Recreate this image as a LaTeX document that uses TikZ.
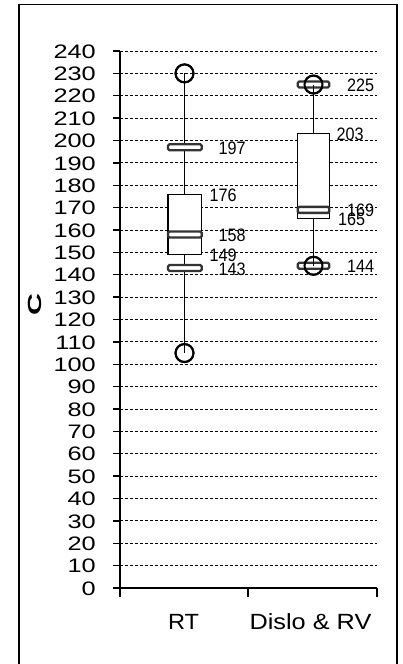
\documentclass[tikz,border=0pt]{standalone}
\usepackage{fontspec}
\setmainfont{Liberation Sans}
\def\Y#1{588-2.2375*#1}
\begin{document}
\begin{tikzpicture}[x=1pt,y=-1pt,
  frame/.style={line width=1.3pt,draw=black},
  grid/.style={line width=0.9pt,dash pattern=on 3pt off 2pt},
  axisline/.style={line width=1.4pt},
  whisk/.style={line width=1.3pt},
  boxst/.style={line width=1.3pt,draw=black,fill=white},
  barst/.style={line width=2.3pt,draw=black!80,fill=white,rounded corners=1.5pt},
  outl/.style={circle,draw=black,line width=2pt,minimum size=18pt,inner sep=0pt},
  ticklab/.style={anchor=base east,inner sep=0pt,font=\fontsize{19.5}{20}\selectfont},
  vallab/.style={anchor=base west,inner sep=0pt,font=\fontsize{18}{18}\selectfont},
  catlab/.style={anchor=base,inner sep=0pt,font=\fontsize{22}{22}\selectfont}]
\useasboundingbox (0,0) rectangle (403,664);
\fill[white] (0,0) rectangle (403,664);
% frame
\draw[frame] (19,4.3) rectangle (397,680);
% gridlines
\foreach \v in {10,20,...,240} \draw[grid] (120,{\Y{\v}}) -- (377,{\Y{\v}});
% ticks and labels
\foreach \v in {0,10,...,240} {
  \draw[axisline] (113,{\Y{\v}}) -- (120,{\Y{\v}});
  \node[ticklab] (t\v) at (96,{\Y{\v}+7.2}) {\scalebox{1.3}[1]{\v}};
}
% axes
\draw[axisline] (120,{\Y{240}}) -- (120,588) -- (377,588);
\draw[axisline] (120,588) -- (120,597);
\draw[axisline] (248,588) -- (248,597);
\draw[axisline] (377,588) -- (377,597);
% y title
\node[rotate=90,inner sep=0pt,font=\fontsize{19}{19}\selectfont\bfseries] (ytitle) at (35,305) {\scalebox{1.6}[1]{C}};
% category labels
\node[catlab] (cRT) at (183.5,629) {\scalebox{1.07}[1]{RT}};
\node[catlab] (cDR) at (310.5,629) {\scalebox{1.15}[1]{Dislo \& RV}};
% ---- RT ----
\node[outl] (o230) at (184.5,{\Y{230}}) {};
\node[outl] (o105) at (184.5,{\Y{105}}) {};
\draw[whisk] (o230.center) -- (o105.center);
\draw[boxst] (168,{\Y{176}}) rectangle (201.7,{\Y{149}});
\draw[barst] (168,{\Y{197}-3}) rectangle (201.7,{\Y{197}+3});
\draw[barst] (168,{\Y{158}-3}) rectangle (201.7,{\Y{158}+3});
\draw[barst] (168,{\Y{143}-3}) rectangle (201.7,{\Y{143}+3});
\node[outl] at (184.5,{\Y{230}}) {};
\node[outl] at (184.5,{\Y{105}}) {};
\node[vallab] (l197) at (218.5,{\Y{197}+7}) {\scalebox{0.9}[1]{197}};
\node[vallab] (l176) at (209.5,{\Y{176}+7}) {\scalebox{0.9}[1]{176}};
\node[vallab] (l158) at (218.5,{\Y{158}+7}) {\scalebox{0.9}[1]{158}};
\node[vallab] (l149) at (209.5,{\Y{149}+7}) {\scalebox{0.9}[1]{149}};
\node[vallab] (l143) at (218.5,{\Y{143}+7}) {\scalebox{0.9}[1]{143}};
% ---- Dislo & RV ----
\node[outl] (o225) at (313.5,{\Y{225}}) {};
\node[outl] (o144) at (313.5,{\Y{144}}) {};
\draw[whisk] (o225.center) -- (o144.center);
\draw[boxst] (297.7,{\Y{203}}) rectangle (329.3,{\Y{165}});
\draw[barst] (297.7,{\Y{169}-3}) rectangle (329.3,{\Y{169}+3});
\draw[barst] (297.7,{\Y{225}-3}) rectangle (329.3,{\Y{225}+3});
\draw[barst] (297.7,{\Y{144}-3}) rectangle (329.3,{\Y{144}+3});
\draw[whisk] (o225.center) -- ++(0,10);
\draw[whisk] (o144.center) -- ++(0,-10);
\node[outl] at (313.5,{\Y{225}}) {};
\node[outl] at (313.5,{\Y{144}}) {};
\node[vallab] (l225) at (347,{\Y{225}+7}) {\scalebox{0.9}[1]{225}};
\node[vallab] (l203) at (336.5,{\Y{203}+7}) {\scalebox{0.9}[1]{203}};
\node[vallab] (l169) at (347,{\Y{169}+7}) {\scalebox{0.9}[1]{169}};
\node[vallab] (l165) at (338,{\Y{165}+7}) {\scalebox{0.9}[1]{165}};
\node[vallab] (l144) at (347,{\Y{144}+7}) {\scalebox{0.9}[1]{144}};
\end{tikzpicture}
\end{document}
